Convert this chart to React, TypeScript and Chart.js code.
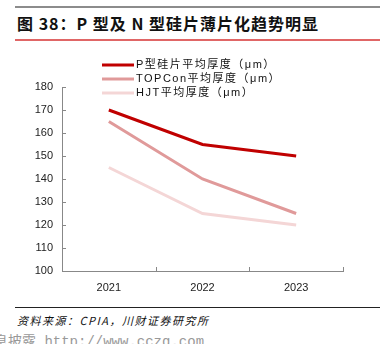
import React, { useEffect, useRef } from "react";
import { Chart, registerables } from "chart.js";

Chart.register(...registerables);

const years = ["2021", "2022", "2023"];
const pTypeValues = [170, 155, 150];
const topconValues = [165, 140, 125];
const hjtValues = [145, 125, 120];
const seriesNames = ["P型硅片平均厚度（μm）", "TOPCon平均厚度（μm）", "HJT平均厚度（μm）"];
const seriesColors = ["#c00000", "#e09a9a", "#f4d6d6"];
const yMin = 100;
const yMax = 180;
const yStep = 10;

const FONT = '"Liberation Sans", "Noto Sans CJK SC", sans-serif';

const legendPlugin = {
  id: "customLegend",
  afterDraw(chart: any) {
    const ctx = chart.ctx;
    ctx.save();
    chart.data.datasets.forEach((ds: any, i: number) => {
      const y = 15 + i * 14;
      ctx.strokeStyle = ds.borderColor;
      ctx.lineWidth = 3;
      ctx.beginPath();
      ctx.moveTo(102, y);
      ctx.lineTo(134, y);
      ctx.stroke();
      ctx.fillStyle = "#111";
      ctx.font = `11px ${FONT}`;
      try { ctx.letterSpacing = "1.5px"; } catch (e) {}
      ctx.textBaseline = "middle";
      ctx.textAlign = "left";
      ctx.fillText(ds.label, 136, y);
    });
    ctx.restore();
  },
};

const tickPlugin = {
  id: "inwardTicks",
  afterDraw(chart: any) {
    const ctx = chart.ctx;
    const { left, bottom } = chart.chartArea;
    const x = chart.scales.x;
    const y = chart.scales.y;
    ctx.save();
    ctx.strokeStyle = "#888";
    ctx.lineWidth = 1;
    ctx.beginPath();
    const n = chart.data.labels.length;
    const half = (x.getPixelForValue(1) - x.getPixelForValue(0)) / 2;
    for (let i = 0; i < n; i++) {
      const px = Math.round(x.getPixelForValue(i) + half) + 0.5;
      ctx.moveTo(px, bottom);
      ctx.lineTo(px, bottom - 4);
    }
    for (let v = yMin; v <= yMax; v += yStep) {
      const py = Math.round(y.getPixelForValue(v)) + 0.5;
      ctx.moveTo(left, py);
      ctx.lineTo(left + 4, py);
    }
    ctx.stroke();
    ctx.restore();
  },
};

function LineChart() {
  const ref = useRef<HTMLCanvasElement>(null);
  useEffect(() => {
    if (!ref.current) return;
    const values = [pTypeValues, topconValues, hjtValues];
    const chart = new Chart(ref.current, {
      type: "line",
      data: {
        labels: years,
        datasets: values.map((v, i) => ({
          label: seriesNames[i],
          data: v,
          borderColor: seriesColors[i],
          backgroundColor: seriesColors[i],
          borderWidth: 3,
          pointRadius: 0,
          tension: 0,
        })),
      },
      options: {
        animation: false,
        responsive: false,
        devicePixelRatio: 1,
        layout: { padding: { top: 37, right: 45, left: 0, bottom: 0 } },
        plugins: { legend: { display: false }, tooltip: { enabled: false } },
        scales: {
          x: {
            offset: true,
            grid: { display: false, offset: true },
            border: { display: true, color: "#888", width: 1 },
            ticks: { color: "#222", font: { size: 11, family: FONT }, padding: 2 },
            afterFit: (s: any) => { s.height = 29; },
          },
          y: {
            min: yMin,
            max: yMax,
            grid: { display: false },
            border: { display: true, color: "#888", width: 1 },
            ticks: { stepSize: yStep, color: "#222", font: { size: 11, family: FONT }, padding: 1 },
            afterFit: (s: any) => { s.width = 62; },
          },
        },
      },
      plugins: [legendPlugin, tickPlugin],
    });
    return () => chart.destroy();
  }, []);
  return (
    <canvas
      ref={ref}
      width={388}
      height={250}
      style={{ position: "absolute", left: 0, top: 50, width: 388, height: 250 }}
    />
  );
}

export default function App() {
  return (
    <div style={{ position: "fixed", left: 0, top: 0, width: 388, height: 344, background: "#fff", overflow: "hidden" }}>
      <div style={{ position: "absolute", left: 15, top: 6, width: 365, height: 2, background: "#8c8c8c" }} />
      <div
        style={{
          position: "absolute",
          left: 17,
          top: 13,
          fontFamily: '"Noto Sans CJK SC", sans-serif',
          fontWeight: 700,
          fontSize: 16,
          lineHeight: "20px",
          letterSpacing: 1,
          color: "#111",
          whiteSpace: "nowrap",
        }}
      >
        图 38：P 型及 N 型硅片薄片化趋势明显
      </div>
      <div style={{ position: "absolute", left: 15, top: 39, width: 365, height: 2, background: "#e06666" }} />
      <LineChart />
      <div style={{ position: "absolute", left: 15, top: 307, width: 365, height: 1, background: "#222" }} />
      <div
        style={{
          position: "absolute",
          left: 17,
          top: 312,
          fontFamily: '"Noto Sans CJK SC", sans-serif',
          fontStyle: "italic",
          fontSize: 11,
          lineHeight: "16px",
          letterSpacing: 1.5,
          color: "#111",
          whiteSpace: "nowrap",
        }}
      >
        资料来源：CPIA，川财证券研究所
      </div>
      <div
        style={{
          position: "absolute",
          left: -6,
          top: 333,
          fontFamily: '"Liberation Mono", "Noto Sans CJK SC", monospace',
          fontSize: 14,
          lineHeight: "18px",
          color: "#999",
          whiteSpace: "nowrap",
        }}
      >
        息披露 http://www.cczq.com
      </div>
    </div>
  );
}
